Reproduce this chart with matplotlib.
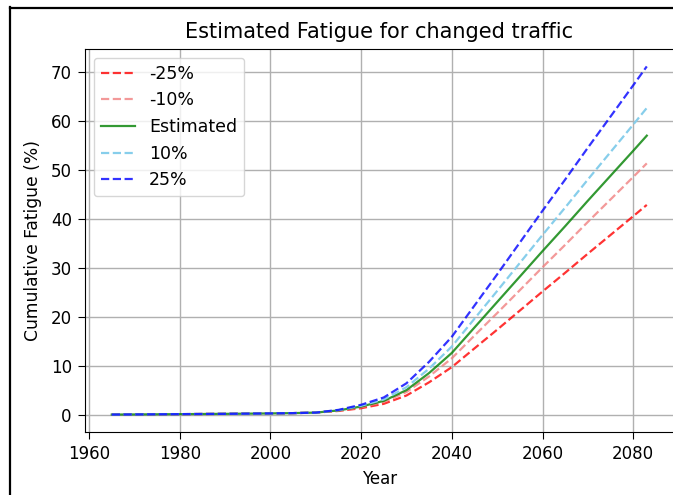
import numpy as np
import matplotlib.pyplot as plt
from matplotlib.lines import Line2D

years = [1965, 1970, 1975, 1980, 1985, 1990, 1995, 2000, 2005, 2010, 2015, 2020,
         2025, 2030, 2035, 2040, 2045, 2050, 2055, 2060, 2065, 2070, 2075, 2080, 2083]

hist = [0.0, 0.03, 0.06, 0.09, 0.12, 0.15, 0.19, 0.24, 0.3, 0.4]

minus25 = hist + [0.74, 1.3, 2.2, 3.9, 6.6, 9.7, 13.53, 17.35, 21.25, 25.15,
                  28.98, 32.88, 36.7, 40.53, 42.85]
minus10 = hist + [0.8, 1.5, 2.6, 4.6, 7.8, 11.5, 16.15, 20.74, 25.42, 30.1,
                  34.69, 39.37, 43.96, 48.55, 51.34]
estimated = hist + [0.85, 1.65, 2.8, 5.0, 8.5, 12.6, 17.8, 23.0, 28.2, 33.4,
                    38.5, 43.7, 48.8, 53.9, 57.0]
plus10 = hist + [0.9, 1.8, 3.1, 5.6, 9.4, 13.9, 19.6, 25.26, 30.98, 36.7,
                 42.31, 48.03, 53.64, 59.25, 62.66]
plus25 = hist + [0.96, 2.0, 3.5, 6.4, 10.8, 15.9, 22.28, 28.65, 35.15, 41.65,
                 48.03, 54.53, 60.9, 67.28, 71.15]

fig = plt.figure(figsize=(6.73, 4.95), dpi=100)
ax = fig.add_axes([0.1263, 0.1273, 0.8745, 0.7737])

lw = 1.6
ax.plot(years, minus25, '--', color='red', alpha=0.8, lw=lw, label='-25%')
ax.plot(years, minus10, '--', color='lightcoral', alpha=0.8, lw=lw, label='-10%')
ax.plot(years, estimated, '-', color='green', alpha=0.8, lw=lw, label='Estimated')
ax.plot(years, plus10, '--', color='skyblue', lw=lw, label='10%')
ax.plot(years, plus25, '--', color='blue', alpha=0.8, lw=lw, label='25%')

ax.grid(True, lw=1.0)
ax.tick_params(labelsize=12, length=5, pad=4.5)
ax.set_xlabel('Year', fontsize=12, labelpad=5)
ax.set_ylabel('Cumulative Fatigue (%)', fontsize=12.3, labelpad=6)
ax.set_title('Estimated Fatigue for changed traffic', fontsize=15, pad=8)
ax.legend(loc='upper left', fontsize=12.5)

# screenshot frame
fig.add_artist(Line2D([0.0155, 0.0155], [0, 0.986], transform=fig.transFigure,
                      color='black', lw=1.6))
fig.add_artist(Line2D([0.0155, 1.0], [0.984, 0.984], transform=fig.transFigure,
                      color='black', lw=1.6))

plt.savefig('out.png', dpi=100)
